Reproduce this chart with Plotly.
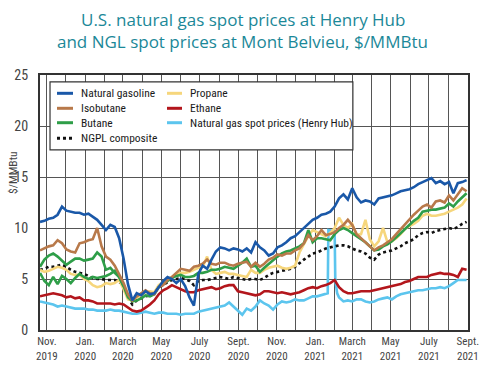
import pandas as pd
import plotly.graph_objects as go

# ---- data (weekly samples) ----
week_start = "2019-10-21"
n_weeks = 98

natural_gasoline = [10.6, 10.7, 10.9, 11.0, 11.3, 12.1, 11.7, 11.6, 11.5, 11.5,
                    11.3, 11.4, 11.1, 10.8, 10.3, 9.8, 10.3, 10.1, 9.0, 7.0,
                    4.5, 2.9, 3.6, 3.4, 3.8, 3.5, 3.6, 4.2, 4.8, 5.2,
                    5.0, 4.6, 5.0, 4.3, 3.2, 2.4, 5.5, 6.3, 6.0, 6.9,
                    7.7, 8.1, 8.0, 7.8, 8.0, 7.9, 7.7, 8.0, 7.6, 8.6,
                    8.1, 7.8, 7.3, 7.5, 8.1, 8.3, 8.6, 9.0, 9.2, 9.6,
                    10.0, 10.4, 10.8, 11.0, 11.3, 11.4, 11.6, 12.1, 12.9, 13.3,
                    12.8, 13.9, 13.0, 12.5, 12.7, 12.6, 12.3, 12.9, 13.0, 13.1,
                    13.2, 13.4, 13.6, 13.7, 13.8, 14.0, 14.3, 14.5, 14.7, 14.9,
                    14.4, 14.6, 14.3, 14.5, 13.4, 14.4, 14.5, 14.7]

isobutane = [7.8, 8.0, 8.2, 8.3, 8.8, 8.5, 7.9, 7.7, 7.6, 8.5,
             8.6, 8.8, 8.9, 10.0, 8.2, 7.2, 6.9, 6.3, 5.5, 4.6,
             3.5, 2.9, 3.3, 3.6, 3.9, 3.6, 3.5, 4.2, 4.4, 4.9,
             5.2, 5.6, 6.0, 5.9, 5.8, 6.2, 6.3, 6.5, 6.9, 6.5,
             6.4, 6.6, 6.6, 6.4, 6.3, 6.5, 6.6, 6.7, 6.2, 6.6,
             6.2, 6.5, 6.9, 7.1, 7.4, 7.3, 7.5, 7.5, 7.8, 8.0,
             8.5, 9.3, 8.8, 9.2, 9.8, 9.3, 9.4, 9.6, 10.0, 10.3,
             10.8, 10.3, 9.4, 9.0, 8.6, 8.2, 7.8, 8.1, 8.3, 8.6,
             8.9, 9.4, 9.9, 10.4, 10.9, 11.3, 11.7, 12.1, 12.3, 12.0,
             12.6, 12.7, 12.5, 13.2, 12.7, 13.3, 13.9, 13.6]

butane = [6.2, 6.9, 7.3, 7.5, 7.2, 6.8, 6.4, 6.7, 7.0, 7.0,
          6.8, 6.9, 7.0, 7.6, 7.2, 5.9, 6.1, 5.6, 5.2, 4.3,
          3.2, 2.8, 2.9, 3.1, 3.4, 3.3, 3.5, 4.2, 4.5, 4.8,
          5.1, 5.3, 5.4, 5.2, 5.2, 5.3, 5.6, 5.6, 5.7, 5.9,
          5.9, 6.0, 6.2, 6.1, 6.0, 6.3, 6.6, 7.0, 6.2, 6.3,
          5.7, 6.1, 6.5, 6.8, 7.2, 7.5, 7.7, 7.8, 8.0, 8.2,
          8.5, 9.8, 8.6, 9.0, 9.0, 8.9, 8.8, 9.4, 9.8, 10.0,
          9.8, 9.5, 9.2, 8.9, 8.6, 8.2, 7.8, 7.9, 8.2, 8.4,
          8.7, 9.1, 9.5, 10.0, 10.4, 10.7, 11.0, 11.6, 11.7, 11.8,
          11.8, 11.9, 12.0, 12.4, 12.1, 12.6, 13.0, 13.4]

# second (lower) green line visible Nov 2019 - March 2020
butane_lower = [5.6, 4.8, 4.4, 5.2, 4.5, 5.3, 5.0, 4.6, 5.1, 5.5,
                5.2, 5.0, 5.2, 5.1, 5.2, 5.3, 5.5, 5.8, 5.2, 4.3]

propane = [5.9, 5.7, 5.8, 6.0, 6.2, 6.1, 5.9, 5.5, 5.4, 5.4,
           5.0, 4.8, 4.4, 4.2, 4.3, 4.6, 4.5, 4.6, 4.9, 4.0,
           3.0, 2.9, 3.2, 3.4, 3.7, 3.8, 3.7, 4.4, 4.7, 5.0,
           5.2, 5.5, 5.6, 5.6, 5.7, 5.9, 6.1, 6.2, 7.2, 5.9,
           5.5, 5.6, 5.7, 5.5, 5.5, 5.4, 5.3, 5.2, 5.9, 5.6,
           5.6, 5.9, 6.1, 6.2, 6.3, 6.1, 6.0, 6.1, 6.3, 7.6,
           8.4, 9.2, 9.8, 9.6, 9.4, 9.2, 9.5, 10.0, 11.0, 10.3,
           10.0, 10.4, 9.3, 9.4, 10.8, 8.9, 8.2, 8.7, 10.0, 8.6,
           8.7, 9.0, 9.4, 9.9, 10.2, 10.4, 10.7, 11.2, 11.4, 11.2,
           11.2, 11.3, 11.4, 11.6, 11.8, 12.0, 12.3, 12.9]

ethane = [3.3, 3.4, 3.5, 3.6, 3.5, 3.4, 3.2, 3.3, 3.1, 3.2,
          2.9, 2.9, 2.8, 2.6, 2.6, 2.6, 2.6, 2.5, 2.6, 2.5,
          2.2, 1.9, 1.8, 1.9, 2.2, 2.5, 2.9, 3.5, 3.9, 4.1,
          4.4, 4.2, 4.0, 3.8, 3.7, 3.7, 3.9, 4.0, 4.1, 4.2,
          4.0, 4.1, 4.3, 4.4, 4.4, 3.8, 3.7, 3.6, 3.5, 3.4,
          3.5, 3.8, 3.8, 3.7, 3.6, 3.7, 3.6, 3.5, 3.6, 3.7,
          3.9, 4.1, 4.2, 4.1, 4.3, 4.4, 4.6, 4.9, 4.2, 3.8,
          3.6, 3.6, 3.7, 3.8, 3.8, 3.8, 3.9, 4.0, 4.1, 4.2,
          4.3, 4.4, 4.5, 4.7, 4.8, 5.0, 5.2, 5.2, 5.2, 5.4,
          5.5, 5.6, 5.5, 5.5, 5.4, 5.2, 6.0, 5.9]

ngpl_composite = [5.9, 6.0, 6.2, 6.2, 6.3, 6.4, 6.2, 5.9, 5.7, 5.6,
                  5.5, 5.3, 5.1, 5.0, 5.0, 4.9, 4.9, 4.9, 4.7, 4.4,
                  3.2, 2.5, 2.9, 3.1, 3.3, 3.4, 3.6, 4.2, 4.4, 4.7,
                  4.9, 5.0, 5.1, 5.0, 4.8, 4.4, 4.8, 4.9, 4.9, 5.0,
                  5.1, 5.2, 5.1, 5.0, 5.2, 5.1, 5.0, 4.9, 5.0, 5.0,
                  4.9, 5.1, 5.4, 5.6, 5.7, 5.8, 5.9, 6.0, 6.2, 6.6,
                  6.9, 7.2, 7.5, 7.6, 7.8, 8.0, 8.1, 8.2, 8.3, 8.3,
                  8.2, 8.0, 7.8, 7.7, 7.5, 7.1, 6.9, 7.4, 7.6, 7.7,
                  7.8, 8.0, 8.2, 8.5, 8.7, 8.9, 9.3, 9.5, 9.6, 9.5,
                  9.7, 9.8, 9.9, 10.0, 9.9, 10.1, 10.4, 10.6]

# None = week covered by the spike points below
henry_hub = [2.8, 2.7, 2.6, 2.5, 2.3, 2.4, 2.3, 2.2, 2.1, 2.1,
             2.1, 2.0, 2.0, 1.9, 1.9, 1.9, 2.0, 1.9, 1.9, 1.8,
             1.7, 1.6, 1.6, 1.7, 1.8, 1.7, 1.6, 1.7, 1.7, 1.6,
             1.6, 1.6, 1.5, 1.6, 1.6, 1.6, 1.8, 1.9, 2.0, 2.1,
             2.2, 2.3, 2.4, 2.7, 2.3, 1.9, 1.5, 2.1, 1.9, 2.3,
             2.9, 2.6, 2.4, 2.0, 2.5, 2.8, 2.7, 2.8, 3.0, 2.9,
             2.9, 3.1, 3.3, 3.3, 3.4, 3.5, None, None, 3.2, 2.8,
             2.9, 2.8, 3.0, 3.0, 2.8, 2.7, 2.8, 3.0, 3.1, 3.2,
             3.0, 3.3, 3.5, 3.6, 3.7, 3.8, 3.9, 3.9, 4.0, 4.1,
             4.1, 4.2, 4.1, 4.3, 4.6, 4.9, 4.9, 4.9]
hh_spike_dates = ["2021-01-21", "2021-01-22", "2021-02-01", "2021-02-02", "2021-02-05"]
hh_spike_values = [3.6, 9.8, 9.7, 4.9, 3.6]

tick_dates = ["2019-11-01", "2020-01-01", "2020-03-01", "2020-05-01", "2020-07-01",
              "2020-09-01", "2020-11-01", "2021-01-01", "2021-03-01", "2021-05-01",
              "2021-07-01", "2021-09-01"]
tick_labels = ["Nov.<br>2019", "Jan.<br>2020", "March<br>2020", "May<br>2020",
               "July<br>2020", "Sept.<br>2020", "Nov.<br>2020", "Jan.<br>2021",
               "March<br>2021", "May<br>2021", "July<br>2021", "Sept.<br>2021"]
y_ticks = [0, 5, 10, 15, 20, 25]

legend_col1 = ["Natural gasoline", "Isobutane", "Butane", "NGPL composite"]
legend_col2 = ["Propane", "Ethane", "Natural gas spot prices (Henry Hub)"]

# ---- styles ----
COLORS = {
    "Natural gasoline": "#1a58a8",
    "Isobutane": "#b8794a",
    "Butane": "#2e9e48",
    "NGPL composite": "#111111",
    "Propane": "#f6d67c",
    "Ethane": "#b3161c",
    "Natural gas spot prices (Henry Hub)": "#5cc5ee",
}
DASH = {"NGPL composite": "dot"}
COND = "Roboto Condensed, DejaVu Sans Condensed, sans-serif"
GRAY = "#444444"
LW = 2.6

# ---- build ----
dates = pd.date_range(week_start, periods=n_weeks, freq="7D")
hh = pd.concat([
    pd.Series(henry_hub, index=dates, dtype="float").dropna(),
    pd.Series(hh_spike_values, index=pd.to_datetime(hh_spike_dates)),
]).sort_index()

fig = go.Figure()


def add(name, x, y):
    fig.add_trace(go.Scatter(
        x=x, y=y, name=name, mode="lines", showlegend=False,
        line=dict(color=COLORS[name], width=LW, dash=DASH.get(name, "solid")),
    ))


add("Natural gas spot prices (Henry Hub)", hh.index, hh.values)
add("Ethane", dates, ethane)
add("NGPL composite", dates, ngpl_composite)
add("Propane", dates, propane)
add("Butane", dates[:len(butane_lower)], butane_lower)
add("Butane", dates, butane)
add("Isobutane", dates, isobutane)
add("Natural gasoline", dates, natural_gasoline)

# ---- legend box (paper coordinates) ----
shapes = [dict(type="rect", xref="paper", yref="paper", x0=0.0234, x1=0.731,
               y0=0.706, y1=0.973, line=dict(color="#333", width=1.2),
               fillcolor="white", layer="above")]
annotations = []
row_y = [0.9282, 0.8694, 0.8129, 0.7518]
for col, (lx0, lx1, tx) in ((legend_col1, (0.0397, 0.0771, 0.0911)),
                            (legend_col2, (0.2967, 0.3318, 0.3458))):
    for name, yy in zip(col, row_y):
        shapes.append(dict(type="line", xref="paper", yref="paper", x0=lx0, x1=lx1,
                           y0=yy, y1=yy, layer="above",
                           line=dict(color=COLORS[name], width=3, dash=DASH.get(name, "solid"))))
        annotations.append(dict(text=name, xref="paper", yref="paper", x=tx, y=yy,
                                xanchor="left", yanchor="middle", showarrow=False,
                                font=dict(family=COND, size=11.5, color="#1a1a1a")))

TITLE_FONT = dict(family="Open Sans, sans-serif", size=17, color="#1b8898")
annotations += [
    dict(text="U.S. natural gas spot prices at Henry Hub", xref="paper", yref="paper",
         x=0.474, y=1.2157, xanchor="center", yanchor="middle", showarrow=False, font=TITLE_FONT),
    dict(text="and NGL spot prices at Mont Belvieu, $/MMBtu", xref="paper", yref="paper",
         x=0.474, y=1.1333, xanchor="center", yanchor="middle", showarrow=False, font=TITLE_FONT),
    dict(text="$/MMBtu", textangle=-90, xref="paper", yref="paper",
         x=-0.063, y=0.616, xanchor="center", yanchor="middle", showarrow=False,
         font=dict(family=COND, size=11.5, color=GRAY)),
]

fig.update_layout(
    template="none",
    width=500, height=373, autosize=False,
    margin=dict(l=40, r=32, t=75, b=43),
    paper_bgcolor="white", plot_bgcolor="white",
    showlegend=False, hovermode=False,
    shapes=shapes, annotations=annotations,
)

fig.update_xaxes(
    type="date", range=["2019-10-21", "2021-09-01 06:00"], automargin=False,
    tickmode="array", tickvals=tick_dates, ticktext=tick_labels,
    tickfont=dict(family=COND, size=11, color=GRAY),
    ticks="", showgrid=True, gridcolor="#555", gridwidth=1.3,
    minor=dict(dtick="M1", tick0="2019-11-01", showgrid=True, gridcolor="#555", gridwidth=1.3),
    showline=True, linecolor="#333", linewidth=2, mirror=True, zeroline=False,
)
fig.update_yaxes(
    range=[0, 25], tickmode="array", tickvals=y_ticks, automargin=False,
    tickfont=dict(family=COND, size=14, color=GRAY),
    ticks="outside", ticklen=7, tickcolor="rgba(0,0,0,0)",
    showgrid=True, gridcolor="#555", gridwidth=1.3,
    showline=True, linecolor="#333", linewidth=2, mirror=True, zeroline=False,
)

fig.write_html("out.html", config={"displayModeBar": False},
               post_script="document.body.style.margin='0';")
